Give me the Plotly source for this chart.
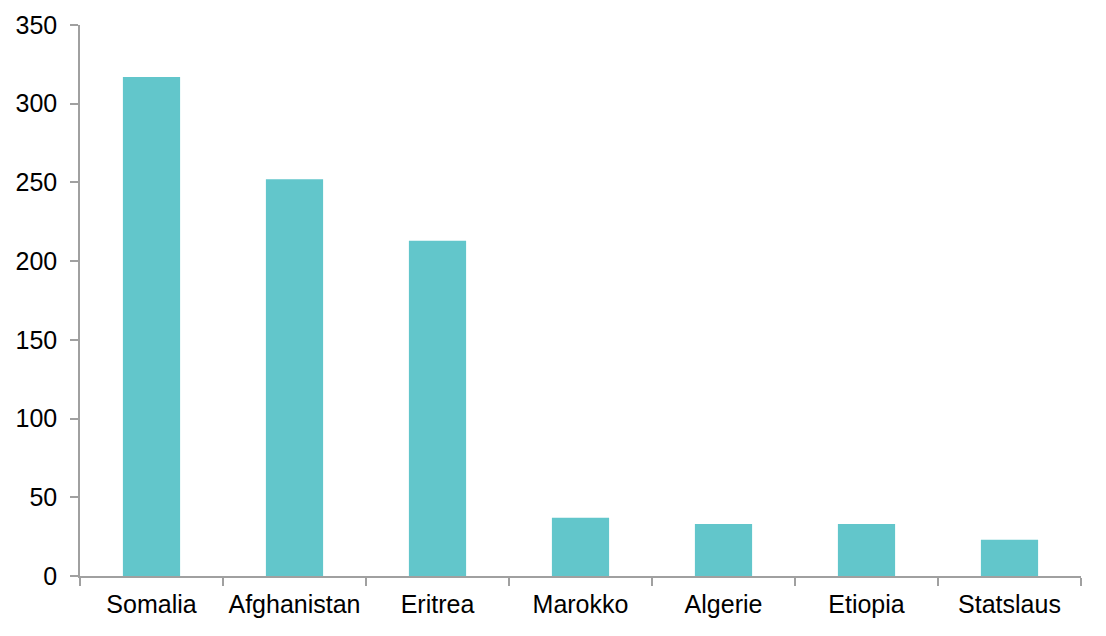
import plotly.graph_objects as go

categories = ["Somalia", "Afghanistan", "Eritrea", "Marokko", "Algerie", "Etiopia", "Statslaus"]
values = [317, 252, 213, 37, 33, 33, 23]
y_ticks = [0, 50, 100, 150, 200, 250, 300, 350]

fig = go.Figure(go.Bar(x=categories, y=values, marker=dict(color="#62C6CB", line=dict(width=0)), width=0.4))

fig.update_layout(
    width=1106, height=636,
    margin=dict(l=72, r=33, t=17, b=68),
    paper_bgcolor="white", plot_bgcolor="white",
    font=dict(family="Liberation Sans, Arial, sans-serif", size=25, color="#000000"),
    showlegend=False,
)
fig.update_xaxes(
    showline=True, linecolor="#a0a0a0", linewidth=1.5,
    ticks="outside", ticklen=8, tickcolor="#a0a0a0", tickwidth=1.5,
    tickson="boundaries", showgrid=False, range=[-0.5, 6.5], automargin=False,
    ticklabelstandoff=5,
)
fig.update_yaxes(
    range=[0, 350], tickvals=y_ticks, showgrid=False, zeroline=False,
    showline=True, linecolor="#a0a0a0", linewidth=1.5,
    ticks="outside", ticklen=8, tickcolor="#a0a0a0", tickwidth=1.5, automargin=False,
    ticklabelstandoff=8,
)

fig.write_html("out.html")
